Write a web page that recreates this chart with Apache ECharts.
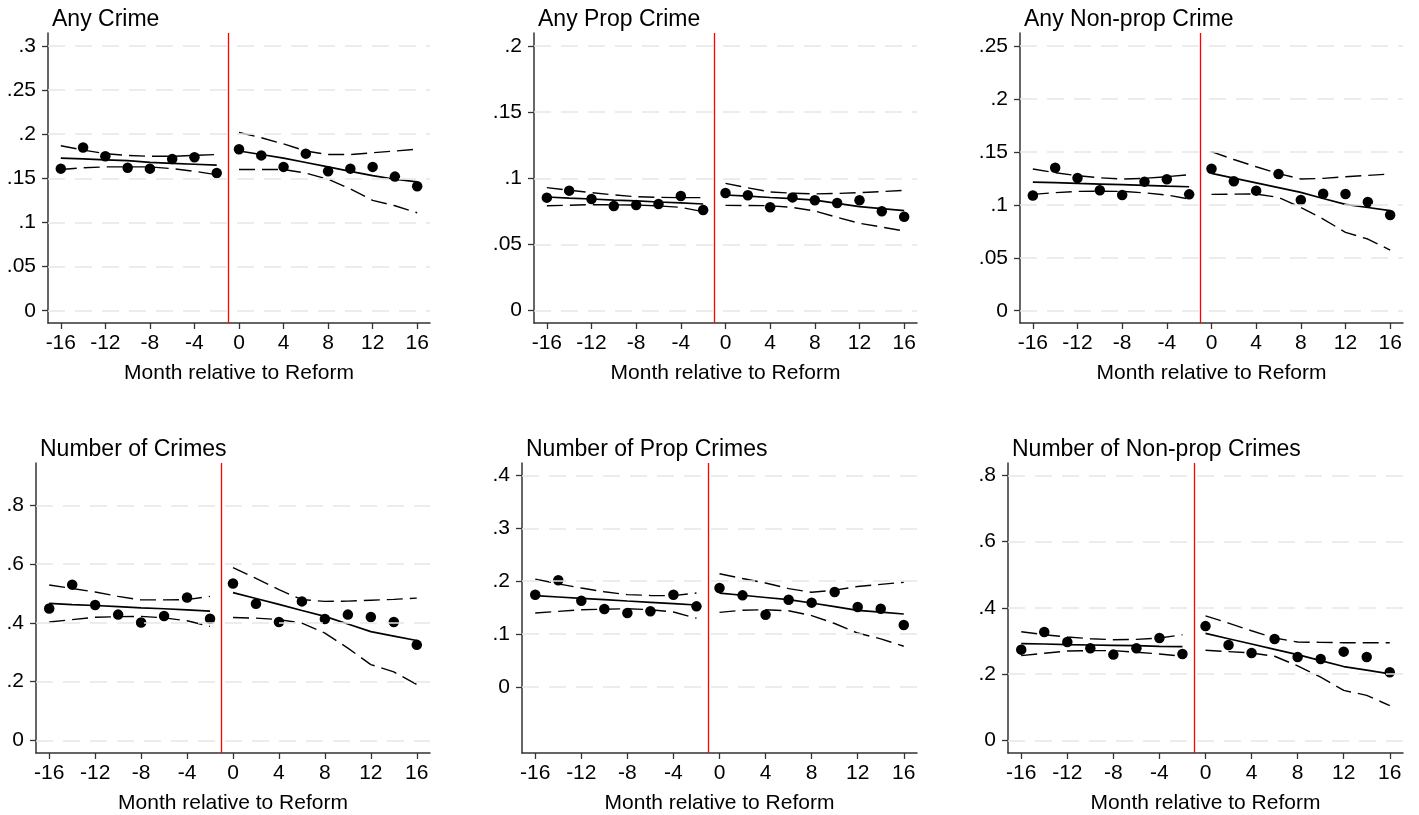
<!DOCTYPE html>
<html>
<head>
<meta charset="utf-8">
<script src="https://cdn.jsdelivr.net/npm/echarts@6/dist/echarts.min.js"></script>
<style>
  html, body { margin: 0; padding: 0; background: #fff; }
  #chart { width: 1419px; height: 815px; }
</style>
</head>
<body>
<div id="chart"></div>
<script>
// months relative to the reform; first 8 are pre, last 9 are post
const months = [-16, -14, -12, -10, -8, -6, -4, -2, 0, 2, 4, 6, 8, 10, 12, 14, 16];
const monthTicks = [-16, -12, -8, -4, 0, 4, 8, 12, 16];
const reformLine = -1;

const titles = ['Any Crime', 'Any Prop Crime', 'Any Non-prop Crime',
  'Number of Crimes', 'Number of Prop Crimes', 'Number of Non-prop Crimes'];
const xName = 'Month relative to Reform';

// Any Crime
const anyCrimePts = [0.161, 0.185, 0.175, 0.162, 0.161, 0.172, 0.174, 0.156, 0.183, 0.176, 0.163, 0.178, 0.158, 0.161, 0.163, 0.152, 0.141];
const anyCrimeFit = [0.173, 0.172, 0.171, 0.170, 0.168, 0.167, 0.166, 0.165, 0.181, 0.177, 0.173, 0.168, 0.163, 0.158, 0.153, 0.149, 0.146];
const anyCrimeHi  = [0.187, 0.182, 0.178, 0.176, 0.175, 0.175, 0.176, 0.177, 0.202, 0.196, 0.189, 0.181, 0.177, 0.177, 0.179, 0.181, 0.183];
const anyCrimeLo  = [0.160, 0.162, 0.163, 0.163, 0.163, 0.161, 0.158, 0.154, 0.160, 0.160, 0.160, 0.156, 0.149, 0.138, 0.125, 0.119, 0.111];
const anyCrimeTicks = [0, 0.05, 0.1, 0.15, 0.2, 0.25, 0.3];

// Any Prop Crime
const anyPropPts = [0.0854, 0.0907, 0.0844, 0.0791, 0.0798, 0.0806, 0.0866, 0.0761, 0.0889, 0.0872, 0.0781, 0.0856, 0.0834, 0.0814, 0.0834, 0.0751, 0.0710];
const anyPropFit = [0.0859, 0.0851, 0.0844, 0.0836, 0.0829, 0.0821, 0.0814, 0.0806, 0.0874, 0.0865, 0.0855, 0.0846, 0.0836, 0.0811, 0.0786, 0.0771, 0.0756];
const anyPropHi  = [0.0930, 0.0910, 0.0892, 0.0875, 0.0861, 0.0856, 0.0854, 0.0854, 0.0962, 0.0928, 0.0897, 0.0888, 0.0882, 0.0886, 0.0892, 0.0900, 0.0909];
const anyPropLo  = [0.0793, 0.0797, 0.0801, 0.0800, 0.0798, 0.0792, 0.0781, 0.0748, 0.0796, 0.0795, 0.0793, 0.0780, 0.0753, 0.0705, 0.0660, 0.0632, 0.0602];
const anyPropTicks = [0, 0.05, 0.1, 0.15, 0.2];

// Any Non-prop Crime
const anyNonPropPts = [0.1089, 0.1351, 0.1253, 0.1137, 0.1093, 0.1219, 0.1241, 0.1099, 0.1341, 0.1222, 0.1134, 0.1291, 0.1045, 0.1105, 0.1102, 0.1026, 0.0904];
const anyNonPropFit = [0.1215, 0.1209, 0.1202, 0.1196, 0.1190, 0.1184, 0.1177, 0.1171, 0.1297, 0.1252, 0.1208, 0.1163, 0.1118, 0.1060, 0.1004, 0.0975, 0.0945];
const anyNonPropHi  = [0.1338, 0.1303, 0.1275, 0.1255, 0.1244, 0.1250, 0.1266, 0.1285, 0.1502, 0.1428, 0.1360, 0.1295, 0.1244, 0.1250, 0.1266, 0.1278, 0.1291];
const anyNonPropLo  = [0.1099, 0.1115, 0.1127, 0.1128, 0.1127, 0.1113, 0.1093, 0.1055, 0.1099, 0.1101, 0.1102, 0.1070, 0.0976, 0.0866, 0.0740, 0.0677, 0.0573];
const anyNonPropTicks = [0, 0.05, 0.1, 0.15, 0.2, 0.25];

// Number of Crimes
const numCrimePts = [0.449, 0.530, 0.461, 0.428, 0.401, 0.423, 0.486, 0.414, 0.534, 0.465, 0.403, 0.473, 0.413, 0.428, 0.420, 0.403, 0.325];
const numCrimeFit = [0.466, 0.462, 0.459, 0.455, 0.451, 0.448, 0.444, 0.440, 0.503, 0.483, 0.463, 0.442, 0.422, 0.396, 0.370, 0.355, 0.340];
const numCrimeHi  = [0.529, 0.517, 0.505, 0.490, 0.478, 0.478, 0.479, 0.490, 0.588, 0.551, 0.513, 0.479, 0.473, 0.474, 0.477, 0.480, 0.484];
const numCrimeLo  = [0.403, 0.411, 0.419, 0.421, 0.422, 0.417, 0.407, 0.388, 0.418, 0.416, 0.411, 0.399, 0.365, 0.314, 0.258, 0.233, 0.190];
const numCrimeTicks = [0, 0.2, 0.4, 0.6, 0.8];

// Number of Prop Crimes
const numPropPts = [0.1745, 0.2016, 0.1631, 0.1474, 0.1398, 0.1430, 0.1745, 0.1524, 0.1871, 0.1732, 0.1367, 0.1650, 0.1594, 0.1795, 0.1512, 0.1480, 0.1172];
const numPropFit = [0.1726, 0.1701, 0.1676, 0.1651, 0.1625, 0.1600, 0.1575, 0.1550, 0.1776, 0.1734, 0.1692, 0.1650, 0.1587, 0.1518, 0.1449, 0.1415, 0.1380];
const numPropHi  = [0.204, 0.195, 0.187, 0.180, 0.1745, 0.173, 0.1726, 0.1776, 0.214, 0.205, 0.1965, 0.186, 0.179, 0.183, 0.190, 0.194, 0.198];
const numPropLo  = [0.1398, 0.143, 0.146, 0.147, 0.148, 0.146, 0.1417, 0.130, 0.141, 0.145, 0.146, 0.144, 0.135, 0.120, 0.102, 0.091, 0.077];
const numPropTicks = [0, 0.1, 0.2, 0.3, 0.4];

// Number of Non-prop Crimes
const numNonPropPts = [0.274, 0.327, 0.297, 0.278, 0.259, 0.278, 0.309, 0.261, 0.345, 0.288, 0.264, 0.306, 0.252, 0.246, 0.268, 0.252, 0.206];
const numNonPropFit = [0.292, 0.291, 0.289, 0.288, 0.287, 0.286, 0.284, 0.283, 0.323, 0.307, 0.291, 0.275, 0.259, 0.241, 0.223, 0.212, 0.201];
const numNonPropHi  = [0.328, 0.319, 0.312, 0.307, 0.304, 0.305, 0.309, 0.319, 0.376, 0.354, 0.331, 0.309, 0.297, 0.296, 0.295, 0.295, 0.295];
const numNonPropLo  = [0.256, 0.263, 0.270, 0.271, 0.271, 0.266, 0.261, 0.254, 0.272, 0.268, 0.264, 0.254, 0.225, 0.191, 0.151, 0.136, 0.105];
const numNonPropTicks = [0, 0.2, 0.4, 0.6, 0.8];

const panels = [
  { pts: anyCrimePts, fit: anyCrimeFit, hi: anyCrimeHi, lo: anyCrimeLo, ticks: anyCrimeTicks },
  { pts: anyPropPts, fit: anyPropFit, hi: anyPropHi, lo: anyPropLo, ticks: anyPropTicks },
  { pts: anyNonPropPts, fit: anyNonPropFit, hi: anyNonPropHi, lo: anyNonPropLo, ticks: anyNonPropTicks },
  { pts: numCrimePts, fit: numCrimeFit, hi: numCrimeHi, lo: numCrimeLo, ticks: numCrimeTicks },
  { pts: numPropPts, fit: numPropFit, hi: numPropHi, lo: numPropLo, ticks: numPropTicks },
  { pts: numNonPropPts, fit: numNonPropFit, hi: numNonPropHi, lo: numNonPropLo, ticks: numNonPropTicks }
];

// layout (pixels) and axis ranges for each panel
const boxes = [
  { left: 48, top: 33, width: 382, yMin: -0.0139, yMax: 0.3147 },
  { left: 534, top: 33, width: 383, yMin: -0.0093, yMax: 0.2098 },
  { left: 1020, top: 33, width: 383, yMin: -0.0116, yMax: 0.2623 },
  { left: 36, top: 463, width: 394, yMin: -0.043, yMax: 0.944 },
  { left: 522, top: 463, width: 395, yMin: -0.1248, yMax: 0.4234 },
  { left: 1008, top: 463, width: 395, yMin: -0.038, yMax: 0.8374 }
];

const FONT = '"Liberation Sans", Arial, sans-serif';
const AXIS_COLOR = '#333';

function fmtY(v) {
  if (v === 0) return '0';
  return String(+v.toFixed(3)).replace(/^0\./, '.');
}

function pairs(ys, from, to) {
  const out = [];
  for (let i = from; i < to; i++) out.push([months[i], ys[i]]);
  return out;
}

const grids = [], xAxes = [], yAxes = [], series = [], titleList = [];

panels.forEach((p, k) => {
  const b = boxes[k];
  grids.push({ left: b.left, top: b.top, width: b.width, height: 290 });
  titleList.push({
    text: titles[k], left: b.left - 1, top: b.top - 30,
    textStyle: { fontFamily: FONT, fontSize: 23, fontWeight: 'normal', color: '#000' }
  });
  xAxes.push({
    type: 'value', gridIndex: k, min: -17.15, max: 17.15,
    name: xName, nameLocation: 'middle', nameGap: 40,
    nameTextStyle: { fontFamily: FONT, fontSize: 21, color: '#000' },
    axisLine: { show: true, onZero: false, lineStyle: { color: AXIS_COLOR, width: 1.5 } },
    axisTick: { show: true, length: 6, customValues: monthTicks, lineStyle: { color: AXIS_COLOR, width: 1.3 } },
    axisLabel: { customValues: monthTicks, margin: 10, fontFamily: FONT, fontSize: 21, color: '#000' },
    splitLine: { show: false }
  });
  yAxes.push({
    type: 'value', gridIndex: k, min: b.yMin, max: b.yMax,
    axisLine: { show: true, onZero: false, lineStyle: { color: AXIS_COLOR, width: 1.5 } },
    axisTick: { show: true, length: 6, customValues: p.ticks, lineStyle: { color: AXIS_COLOR, width: 1.3 } },
    axisLabel: { customValues: p.ticks, margin: 12, fontFamily: FONT, fontSize: 21, color: '#000', formatter: fmtY },
    splitLine: { show: false }
  });

  // light dashed gridlines
  series.push({
    type: 'line', xAxisIndex: k, yAxisIndex: k, data: [], z: 1, silent: true,
    markLine: {
      silent: true, symbol: ['none', 'none'], label: { show: false }, animation: false,
      lineStyle: { color: '#e6e6e6', type: [17, 10], width: 1.5 },
      data: p.ticks.map(t => ({ yAxis: t }))
    }
  });
  // reform line
  series.push({
    type: 'line', xAxisIndex: k, yAxisIndex: k, data: [], z: 2, silent: true,
    markLine: {
      silent: true, symbol: ['none', 'none'], label: { show: false }, animation: false,
      lineStyle: { color: '#ff0000', type: 'solid', width: 1.3 },
      data: [{ xAxis: reformLine }]
    }
  });

  const ranges = [[0, 8], [8, 17]];
  ranges.forEach(([a, c]) => {
    series.push({
      type: 'line', xAxisIndex: k, yAxisIndex: k, data: pairs(p.fit, a, c), symbol: 'none',
      lineStyle: { color: '#000', width: 1.7 }, z: 3, animation: false
    });
    [p.hi, p.lo].forEach(arr => {
      series.push({
        type: 'line', xAxisIndex: k, yAxisIndex: k, data: pairs(arr, a, c), symbol: 'none',
        lineStyle: { color: '#000', width: 1.4, type: [16, 7] }, z: 3, animation: false
      });
    });
  });
  series.push({
    type: 'scatter', xAxisIndex: k, yAxisIndex: k, data: pairs(p.pts, 0, 17),
    symbol: 'circle', symbolSize: 10.5, itemStyle: { color: '#000', opacity: 1 }, z: 4, animation: false
  });
});

const chart = echarts.init(document.getElementById('chart'));
chart.setOption({
  backgroundColor: '#fff',
  animation: false,
  title: titleList,
  grid: grids,
  xAxis: xAxes,
  yAxis: yAxes,
  series: series
});
</script>
</body>
</html>
